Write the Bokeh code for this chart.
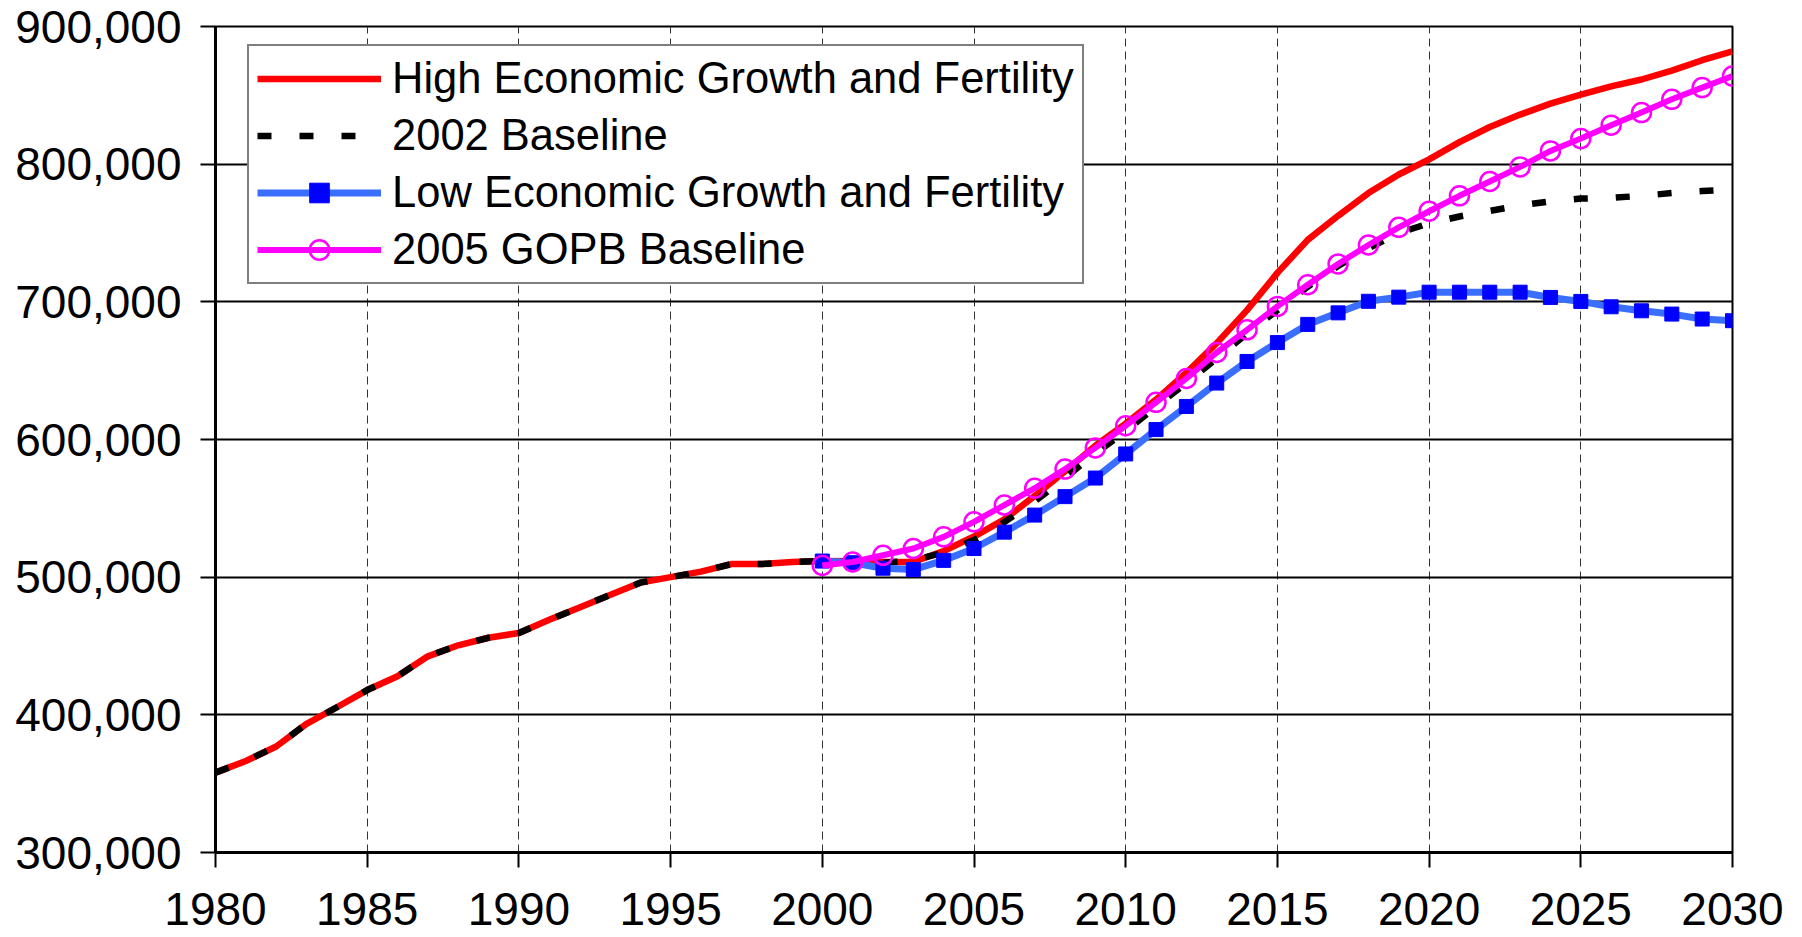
from bokeh.plotting import figure
from bokeh.models import Range1d, FixedTicker, NumeralTickFormatter, Legend, LegendItem
from bokeh.embed import file_html
from bokeh.resources import INLINE

# ---- data ----
years_all = list(range(1980, 2031))
years_proj = list(range(2000, 2031))

history = [358000, 366500, 377000, 393500, 405500, 418000, 428000, 442500, 450500,
           456000, 459500, 469000, 478000, 487000, 496000, 500000, 504000, 509500,
           509500, 511000, 511700]

high_proj = [511500, 511000, 511000, 519000, 529500, 542000, 559000, 577000, 595500,
             611500, 629000, 648500, 670000, 694000, 721000, 745000, 762500, 779000,
             792500, 803500, 816000, 827000, 836000, 844000, 850500, 856500, 861500,
             868000, 875500, 882000]

base2002_proj = [511000, 510500, 512000, 518000, 527000, 540000, 555000, 572000, 590000,
                 606000, 624000, 641000, 659000, 677000, 694000, 711000, 726000, 739000,
                 750000, 757000, 762000, 766000, 770000, 773000, 775000, 775500, 777000,
                 779000, 780500, 781500]

low = [511700, 510500, 506500, 505500, 512200, 520800, 532700, 545100, 558500, 572000,
       589500, 607200, 624000, 641000, 656700, 670400, 683600, 692000, 700400, 703400,
       707000, 707000, 707000, 707000, 703200, 700300, 696400, 693500, 691100, 687500,
       686300]

gopb = [508500, 511000, 515900, 520800, 529300, 540200, 552400, 564600, 578500, 593900,
        610000, 627000, 644300, 663200, 679700, 696700, 712400, 727500, 741300, 754100,
        765800, 777000, 787400, 798000, 809600, 818600, 828300, 837500, 847100, 855600,
        864000]

high = history + high_proj
base2002 = history + base2002_proj

labels = ["High Economic Growth and Fertility", "2002 Baseline",
          "Low Economic Growth and Fertility", "2005 GOPB Baseline"]
x_ticks = list(range(1980, 2031, 5))
y_ticks = list(range(300000, 900001, 100000))

FONT = "Liberation Sans"

p = figure(width=1800, height=936, output_backend="svg", toolbar_location=None,
           x_range=Range1d(1980, 2030), y_range=Range1d(300000, 900000))
p.min_border_left = 215
p.min_border_right = 68
p.min_border_top = 26
p.min_border_bottom = 84
p.background_fill_color = "white"
p.border_fill_color = "white"
p.outline_line_color = "black"
p.outline_line_width = 2

# axes
p.xaxis.ticker = FixedTicker(ticks=x_ticks)
p.yaxis.ticker = FixedTicker(ticks=y_ticks)
p.yaxis.formatter = NumeralTickFormatter(format="0,0")
for ax in (p.xaxis[0], p.yaxis[0]):
    ax.axis_line_color = "black"
    ax.axis_line_width = 3
    ax.major_tick_line_color = "black"
    ax.major_tick_line_width = 2
    ax.major_tick_out = 15
    ax.major_tick_in = 0
    ax.minor_tick_line_color = None
    ax.major_label_text_font = FONT
    ax.major_label_text_font_size = "46px"
    ax.major_label_text_color = "black"
p.xaxis.major_label_standoff = 25
p.yaxis.major_label_standoff = 19

# grids
p.ygrid.ticker = FixedTicker(ticks=y_ticks)
p.ygrid.grid_line_color = "black"
p.ygrid.grid_line_width = 2
p.xgrid.ticker = FixedTicker(ticks=x_ticks)
p.xgrid.grid_line_color = "#333333"
p.xgrid.grid_line_width = 1
p.xgrid.grid_line_dash = "8 5"

# series
r_high = p.line(years_all, high, line_color="#FF0000", line_width=6.5, line_join="round")
r_base = p.line(years_all, base2002, line_color="black", line_width=6.5, line_dash="14 28")
r_low_l = p.line(years_proj, low, line_color="#3A6EFF", line_width=7, line_join="round")
r_low_m = p.scatter(years_proj, low, marker="square", size=14, fill_color="#0000FF",
                    line_color="#0000FF")
r_gopb_l = p.line(years_proj, gopb, line_color="#FF00FF", line_width=6, line_join="round")
r_gopb_m = p.scatter(years_proj, gopb, marker="circle", size=19, fill_color=None,
                     line_color="#FF00FF", line_width=2.5)

legend = Legend(items=[
    LegendItem(label=labels[0], renderers=[r_high]),
    LegendItem(label=labels[1], renderers=[r_base]),
    LegendItem(label=labels[2], renderers=[r_low_l, r_low_m]),
    LegendItem(label=labels[3], renderers=[r_gopb_l, r_gopb_m]),
])
legend.location = (32, 568)
legend.label_text_font = FONT
legend.label_text_font_size = "43.5px"
legend.label_text_color = "black"
legend.glyph_width = 124
legend.glyph_height = 49
legend.label_height = 49
legend.label_standoff = 11
legend.spacing = 8
legend.padding = 8
legend.margin = 0
legend.border_line_color = "black"
legend.border_line_width = 2
legend.background_fill_color = "white"
legend.background_fill_alpha = 1
p.add_layout(legend, "center")

open("out.html", "w").write(file_html(p, INLINE))
